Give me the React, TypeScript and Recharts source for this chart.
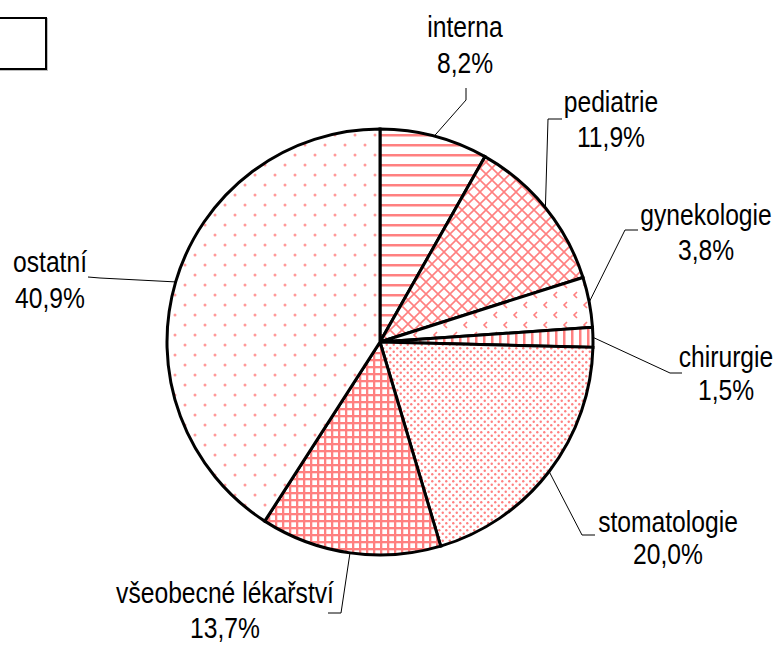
import React from 'react';
import { PieChart, Pie, Cell } from 'recharts';

// oborová struktura (podíl v %)
const categories = ['interna', 'pediatrie', 'gynekologie', 'chirurgie', 'stomatologie', 'všeobecné lékařství', 'ostatní'];
const shares = [8.2, 11.9, 3.8, 1.5, 20.0, 13.7, 40.9];
const shareLabels = ['8,2%', '11,9%', '3,8%', '1,5%', '20,0%', '13,7%', '40,9%'];

const data = categories.map((name, i) => ({ name, value: shares[i], label: shareLabels[i] }));

const PINK = '#ff8080';
const FONT = '"Liberation Sans", Arial, sans-serif';

// where Excel put each label: text center x, baselines, leader elbow and leader end
const LABEL_LAYOUT = [
  { tx: 465, y1: 37, y2: 73, ex: 466, ey: 100, hx: 466, hy: 88 },
  { tx: 611, y1: 112, y2: 147, ex: 548, ey: 119, hx: 562, hy: 119 },
  { tx: 706, y1: 225, y2: 260, ex: 625, ey: 230, hx: 638, hy: 230 },
  { tx: 726, y1: 367, y2: 400, ex: 670, ey: 373, hx: 682, hy: 373 },
  { tx: 668, y1: 532, y2: 564, ex: 582, ey: 535, hx: 595, hy: 535 },
  { tx: 225, y1: 603, y2: 638, ex: 341, ey: 613, hx: 328, hy: 613 },
  { tx: 50, y1: 272, y2: 308, ex: 100, ey: 278, hx: 88, hy: 277 },
];

const RAD = Math.PI / 180;

// Arial Narrow look: Liberation Sans squeezed horizontally
const NarrowText = ({ x, y, children }: { x: number; y: number; children: React.ReactNode }) => (
  <g transform={`translate(${x},${y}) scale(0.85,1)`}>
    <text x={0} y={0} textAnchor="middle" fontFamily={FONT} fontSize={29} fill="#000">
      {children}
    </text>
  </g>
);

const renderLabel = (props: any) => {
  const { cx, cy, midAngle, outerRadius, index } = props;
  const l = LABEL_LAYOUT[index];
  const sx = cx + outerRadius * Math.cos(-midAngle * RAD);
  const sy = cy + outerRadius * Math.sin(-midAngle * RAD);
  return (
    <g key={`lbl-${index}`}>
      <polyline
        points={`${sx},${sy} ${l.ex},${l.ey} ${l.hx},${l.hy}`}
        fill="none"
        stroke="#000"
        strokeWidth={1}
      />
      <NarrowText x={l.tx} y={l.y1}>{data[index].name}</NarrowText>
      <NarrowText x={l.tx} y={l.y2}>{data[index].label}</NarrowText>
    </g>
  );
};

const Patterns = () => (
  <svg width={0} height={0} style={{ position: 'absolute' }}>
    <defs>
      <pattern id="pat0" width="10" height="10" patternUnits="userSpaceOnUse">
        <rect width="10" height="10" fill="#fff" />
        <rect y="4" width="10" height="2.5" fill={PINK} />
      </pattern>
      <pattern id="pat1" width="12" height="12" patternUnits="userSpaceOnUse">
        <rect width="12" height="12" fill="#fff" />
        <path d="M0,0 L12,12 M12,0 L0,12" stroke={PINK} strokeWidth={1.6} />
      </pattern>
      <pattern id="pat2" width="20" height="20" patternUnits="userSpaceOnUse">
        <rect width="20" height="20" fill="#fff" />
        <path d="M7,2 L4,5 L7,8 M17,12 L14,15 L17,18" fill="none" stroke={PINK} strokeWidth={1.6} />
      </pattern>
      <pattern id="pat3" width="8" height="8" patternUnits="userSpaceOnUse">
        <rect width="8" height="8" fill="#fff" />
        <rect x="3" width="2.5" height="8" fill={PINK} />
      </pattern>
      <pattern id="pat4" width="7" height="7" patternUnits="userSpaceOnUse">
        <rect width="7" height="7" fill="#fff" />
        <circle cx="1.75" cy="1.75" r="1.2" fill={PINK} />
        <circle cx="5.25" cy="5.25" r="1.2" fill={PINK} />
      </pattern>
      <pattern id="pat5" width="7" height="7" patternUnits="userSpaceOnUse">
        <rect width="7" height="7" fill="#fff" />
        <rect y="2" width="7" height="2.3" fill={PINK} />
        <rect x="2" width="2.3" height="7" fill={PINK} />
      </pattern>
      <pattern id="pat6" width="20" height="20" patternUnits="userSpaceOnUse">
        <rect width="20" height="20" fill="#fff" />
        <circle cx="5" cy="5" r="1.5" fill="#ff9a9a" />
        <circle cx="15" cy="15" r="1.5" fill="#ff9a9a" />
      </pattern>
    </defs>
  </svg>
);

export default function App() {
  return (
    <div style={{ position: 'absolute', left: 0, top: 0, width: 784, height: 645, background: '#fff', overflow: 'hidden' }}>
      <Patterns />
      <div
        style={{
          position: 'absolute',
          left: -4,
          top: 17,
          width: 47,
          height: 49,
          border: '2px solid #000',
          boxShadow: '1px 1px 0 #bdbdbd',
          background: '#fff',
        }}
      />
      <PieChart
        width={784}
        height={645}
        margin={{ top: 0, right: 0, bottom: 0, left: 0 }}
        style={{ position: 'absolute', left: 0, top: 0 }}
      >
        <Pie
          data={data}
          dataKey="value"
          nameKey="name"
          cx={380}
          cy={342}
          outerRadius={213}
          startAngle={90}
          endAngle={-270}
          stroke="#000"
          strokeWidth={3}
          label={renderLabel}
          labelLine={false}
          isAnimationActive={false}
        >
          {data.map((d, i) => (
            <Cell key={d.name} fill={`url(#pat${i})`} />
          ))}
        </Pie>
      </PieChart>
    </div>
  );
}
